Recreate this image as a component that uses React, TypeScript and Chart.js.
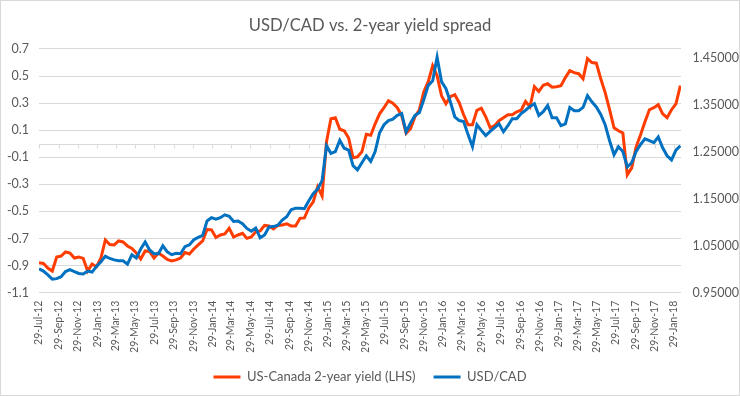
import React, { useEffect, useRef } from 'react';
import { Chart, registerables } from 'chart.js';

Chart.register(...registerables);

// Series: bi-weekly observations starting 29-Jul-2012
const startDate = '2012-07-29';
const stepDays = 14;

const spreadLHS = [
  -0.878, -0.884, -0.918, -0.940, -0.836, -0.829, -0.799, -0.807, -0.844, -0.836,
  -0.847, -0.940, -0.888, -0.908, -0.844, -0.711, -0.744, -0.747, -0.718, -0.725,
  -0.755, -0.773, -0.807, -0.851, -0.792, -0.796, -0.844, -0.807, -0.829, -0.855,
  -0.866, -0.858, -0.844, -0.803, -0.814, -0.777, -0.747, -0.718, -0.633, -0.636,
  -0.692, -0.674, -0.666, -0.625, -0.689, -0.674, -0.662, -0.699, -0.689, -0.651,
  -0.644, -0.603, -0.607, -0.629, -0.603, -0.600, -0.592, -0.607, -0.607, -0.551,
  -0.548, -0.474, -0.429, -0.318, -0.385, 0.014, 0.184, 0.192, 0.107, 0.096,
  0.042, -0.104, -0.097, -0.060, 0.070, 0.062, 0.147, 0.221, 0.266, 0.318,
  0.299, 0.266, 0.207, 0.077, 0.111, 0.199, 0.251, 0.384, 0.458, 0.576,
  0.503, 0.355, 0.295, 0.347, 0.362, 0.303, 0.214, 0.140, 0.140, 0.247,
  0.262, 0.199, 0.118, 0.133, 0.170, 0.192, 0.214, 0.214, 0.236, 0.247,
  0.312, 0.273, 0.421, 0.386, 0.432, 0.443, 0.417, 0.421, 0.428, 0.488,
  0.539, 0.525, 0.517, 0.480, 0.628, 0.599, 0.595, 0.480, 0.377, 0.251,
  0.118, 0.096, 0.079, -0.230, -0.178, -0.023, 0.066, 0.162, 0.251, 0.266,
  0.288, 0.221, 0.192, 0.251, 0.295, 0.430,
];

const usdcad = [
  1.001, 0.996, 0.988, 0.979, 0.980, 0.984, 0.995, 0.999, 0.995, 0.991,
  0.990, 0.996, 0.994, 1.006, 1.016, 1.028, 1.023, 1.020, 1.018, 1.018,
  1.011, 1.031, 1.024, 1.043, 1.058, 1.041, 1.033, 1.033, 1.050, 1.037,
  1.031, 1.034, 1.033, 1.048, 1.052, 1.063, 1.068, 1.072, 1.103, 1.110,
  1.107, 1.110, 1.116, 1.113, 1.102, 1.103, 1.097, 1.087, 1.081, 1.088,
  1.067, 1.073, 1.090, 1.091, 1.094, 1.105, 1.112, 1.127, 1.130, 1.130,
  1.129, 1.146, 1.161, 1.171, 1.189, 1.263, 1.247, 1.251, 1.275, 1.258,
  1.254, 1.221, 1.212, 1.227, 1.242, 1.230, 1.251, 1.291, 1.308, 1.317,
  1.320, 1.328, 1.332, 1.293, 1.312, 1.328, 1.334, 1.362, 1.392, 1.402,
  1.452, 1.400, 1.385, 1.357, 1.325, 1.317, 1.315, 1.287, 1.261, 1.308,
  1.296, 1.285, 1.294, 1.302, 1.310, 1.293, 1.306, 1.321, 1.321, 1.332,
  1.339, 1.347, 1.353, 1.328, 1.336, 1.349, 1.323, 1.323, 1.306, 1.310,
  1.345, 1.338, 1.338, 1.345, 1.370, 1.357, 1.346, 1.330, 1.308, 1.274,
  1.244, 1.261, 1.251, 1.218, 1.227, 1.251, 1.266, 1.278, 1.274, 1.270,
  1.282, 1.259, 1.242, 1.233, 1.254, 1.263,
];

const xTickLabels = [
  '29-Jul-12', '29-Sep-12', '29-Nov-12', '29-Jan-13', '29-Mar-13', '29-May-13',
  '29-Jul-13', '29-Sep-13', '29-Nov-13', '29-Jan-14', '29-Mar-14', '29-May-14',
  '29-Jul-14', '29-Sep-14', '29-Nov-14', '29-Jan-15', '29-Mar-15', '29-May-15',
  '29-Jul-15', '29-Sep-15', '29-Nov-15', '29-Jan-16', '29-Mar-16', '29-May-16',
  '29-Jul-16', '29-Sep-16', '29-Nov-16', '29-Jan-17', '29-Mar-17', '29-May-17',
  '29-Jul-17', '29-Sep-17', '29-Nov-17', '29-Jan-18',
];

const leftTicks = [-1.1, -0.9, -0.7, -0.5, -0.3, -0.1, 0.1, 0.3, 0.5, 0.7];
const rightTicks = [0.95, 1.05, 1.15, 1.25, 1.35, 1.45];

const TITLE = 'USD/CAD vs. 2-year yield spread';
const RED = '#FF3D00';
const BLUE = '#0070C0';
const TEXT = '#595959';
const GRID = '#D9D9D9';
const FONT = 'Lato, "Open Sans", sans-serif';

const MONTHS: Record<string, number> = {
  Jan: 0, Feb: 1, Mar: 2, Apr: 3, May: 4, Jun: 5, Jul: 6, Aug: 7, Sep: 8, Oct: 9, Nov: 10, Dec: 11,
};
const DAY = 86400000;
const startMs = Date.parse(startDate + 'T00:00:00Z');
const labelToDay = (s: string) => {
  const [d, m, y] = s.split('-');
  return Math.round((Date.UTC(2000 + Number(y), MONTHS[m], Number(d)) - startMs) / DAY);
};
const xTickDays = xTickLabels.map(labelToDay);

const chartBg = {
  id: 'chartBg',
  beforeDraw(chart: any) {
    const { ctx, width, height } = chart;
    ctx.save();
    ctx.fillStyle = '#FFFFFF';
    ctx.fillRect(0, 0, width, height);
    ctx.restore();
  },
  afterDraw(chart: any) {
    const { ctx, width, height } = chart;
    ctx.save();
    ctx.strokeStyle = GRID;
    ctx.lineWidth = 1;
    ctx.strokeRect(0.5, 0.5, width - 1, height - 1);
    ctx.restore();
  },
};

const zeroAxis = {
  id: 'zeroAxis',
  beforeDatasetsDraw(chart: any) {
    const { ctx, chartArea } = chart;
    const ys = chart.scales.y;
    const xs = chart.scales.x;
    const y0 = Math.round(ys.getPixelForValue(0)) + 0.5;
    ctx.save();
    ctx.strokeStyle = GRID;
    ctx.lineWidth = 1;
    ctx.beginPath();
    ctx.moveTo(chartArea.left, y0);
    ctx.lineTo(chartArea.right, y0);
    xs.ticks.forEach((t: any) => {
      const px = Math.round(xs.getPixelForValue(t.value)) + 0.5;
      ctx.moveTo(px, y0);
      ctx.lineTo(px, y0 + 4);
    });
    ctx.stroke();
    ctx.restore();
  },
};

export default function App() {
  const ref = useRef<HTMLCanvasElement | null>(null);

  useEffect(() => {
    if (!ref.current) return;
    const lastDay = (spreadLHS.length - 1) * stepDays;
    const chart = new Chart(ref.current, {
      type: 'line',
      data: {
        datasets: [
          {
            label: 'US-Canada 2-year yield (LHS)',
            data: spreadLHS.map((v, i) => ({ x: i * stepDays, y: v })),
            yAxisID: 'y',
            borderColor: RED,
            backgroundColor: RED,
            borderWidth: 3,
            pointRadius: 0,
            tension: 0,
            order: 1,
          },
          {
            label: 'USD/CAD',
            data: usdcad.map((v, i) => ({ x: i * stepDays, y: v })),
            yAxisID: 'y1',
            borderColor: BLUE,
            backgroundColor: BLUE,
            borderWidth: 3,
            pointRadius: 0,
            tension: 0,
            order: 0,
          },
        ],
      },
      options: {
        responsive: false,
        animation: false,
        devicePixelRatio: 1,
        layout: { padding: { left: 0, right: 0, top: 0, bottom: 2.5 } },
        font: { family: FONT },
        plugins: {
          title: {
            display: true,
            text: TITLE,
            color: TEXT,
            font: { family: FONT, size: 16.6, weight: 'normal' },
            padding: { top: 16, bottom: 13 },
          },
          legend: {
            display: true,
            position: 'bottom',
            labels: {
              color: TEXT,
              font: { family: FONT, size: 13 },
              usePointStyle: true,
              pointStyle: 'line',
              pointStyleWidth: 27,
              boxHeight: 13,
              padding: 18,
              sort: (a: any, b: any) => a.datasetIndex - b.datasetIndex,
            },
          },
          tooltip: { enabled: false },
        },
        scales: {
          x: {
            type: 'linear',
            min: 0,
            max: lastDay + 2,
            afterBuildTicks: (s: any) => {
              s.ticks = xTickDays.map((v) => ({ value: v }));
            },
            afterFit: (s: any) => {
              s.height = 59.8;
            },
            grid: { display: false, drawTicks: false },
            border: { display: false },
            ticks: {
              autoSkip: false,
              minRotation: 90,
              maxRotation: 90,
              padding: 8,
              color: TEXT,
              font: { family: FONT, size: 10.5 },
              callback: (_v: any, i: number) => xTickLabels[i],
            },
          },
          y: {
            type: 'linear',
            position: 'left',
            min: -1.1,
            max: 0.7,
            afterBuildTicks: (s: any) => {
              s.ticks = leftTicks.map((v) => ({ value: v }));
            },
            afterFit: (s: any) => {
              s.width = 39;
            },
            grid: { color: GRID, drawTicks: false, lineWidth: 1 },
            border: { display: false },
            ticks: {
              padding: 10,
              color: TEXT,
              font: { family: FONT, size: 12.5 },
              callback: (v: any) => Number(v).toFixed(1),
            },
          },
          y1: {
            type: 'linear',
            position: 'right',
            min: 0.95,
            max: 1.4697,
            afterBuildTicks: (s: any) => {
              s.ticks = rightTicks.map((v) => ({ value: v }));
            },
            afterFit: (s: any) => {
              s.width = 59;
            },
            grid: { display: false, drawTicks: false },
            border: { display: false },
            ticks: {
              padding: 11.5,
              color: TEXT,
              font: { family: FONT, size: 12.5 },
              callback: (v: any) => Number(v).toFixed(5),
            },
          },
        },
      },
      plugins: [chartBg, zeroAxis],
    } as any);
    return () => chart.destroy();
  }, []);

  return (
    <div style={{ position: 'absolute', left: 0, top: 0, width: 740, height: 396 }}>
      <canvas ref={ref} width={740} height={396} style={{ display: 'block', width: 740, height: 396 }} />
    </div>
  );
}
